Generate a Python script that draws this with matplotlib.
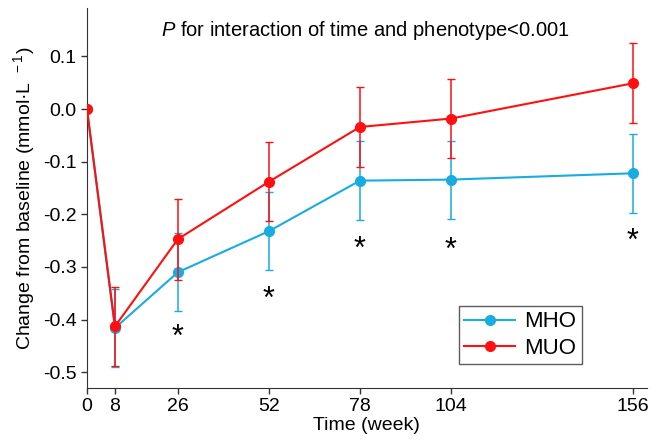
import matplotlib
matplotlib.use('Agg')
import matplotlib.pyplot as plt
from matplotlib.lines import Line2D

plt.rcParams['font.family'] = ['Liberation Sans', 'DejaVu Sans']
plt.rcParams['mathtext.fontset'] = 'custom'
plt.rcParams['mathtext.rm'] = 'Liberation Sans'
plt.rcParams['mathtext.it'] = 'Liberation Sans:italic'

# data
weeks = [0, 8, 26, 52, 78, 104, 156]
mho = [0.0, -0.416, -0.310, -0.232, -0.136, -0.134, -0.122]
mho_err = [0.0, 0.075, 0.074, 0.074, 0.075, 0.074, 0.075]
muo = [0.0, -0.413, -0.247, -0.138, -0.034, -0.018, 0.049]
muo_err = [0.0, 0.075, 0.077, 0.075, 0.076, 0.075, 0.076]

# significance marks
star_weeks = [26, 52, 78, 104, 156]
star_y = [-0.435, -0.363, -0.267, -0.269, -0.253]

blue = '#18ACE0'
red = '#FF1010'

fig = plt.figure(figsize=(6.54, 4.48), dpi=100)
ax = fig.add_axes([0.133, 0.134, 0.856, 0.848])

ax.errorbar(weeks, mho, yerr=mho_err, color=blue, marker='o', ms=7, lw=1.5,
            elinewidth=1.1, capsize=3, ecolor=blue, zorder=2)
ax.errorbar(weeks, muo, yerr=muo_err, color=red, marker='o', ms=7, lw=1.5,
            elinewidth=1.1, capsize=3, ecolor=red, zorder=3)

for x, y in zip(star_weeks, star_y):
    ax.text(x, y, '*', ha='center', va='center', fontsize=22)

ax.text(79.5, 0.150, '$\\mathit{P}$ for interaction of time and phenotype<0.001',
        ha='center', va='center', fontsize=14.5)

ax.set_xlim(0, 160)
ax.set_ylim(-0.53, 0.192)
ax.set_xticks(weeks)
ax.set_yticks([-0.5, -0.4, -0.3, -0.2, -0.1, 0.0, 0.1])
ax.set_yticklabels(['-0.5', '-0.4', '-0.3', '-0.2', '-0.1', '0.0', '0.1'])
ax.tick_params(labelsize=14, length=4, width=1, color='#333333')
ax.spines['top'].set_visible(False)
ax.spines['right'].set_visible(False)
for s in ['left', 'bottom']:
    ax.spines[s].set_color('#333333')

ax.set_xlabel('Time (week)', fontsize=14, labelpad=1)
ax.set_ylabel('Change from baseline (mmol·L$^{\\ \\ -1}$)', fontsize=14)

handles = [Line2D([], [], color=blue, marker='o', ms=7, lw=1.5),
           Line2D([], [], color=red, marker='o', ms=7, lw=1.5)]
leg = ax.legend(handles, ['MHO', 'MUO'], loc='lower right',
                bbox_to_anchor=(0.884, 0.062), fontsize=16,
                frameon=True, fancybox=False, handlelength=2.3,
                borderpad=0.25, labelspacing=0.25, handletextpad=0.4,
                borderaxespad=0)
leg.get_frame().set_edgecolor('#333333')
leg.get_frame().set_linewidth(1)

fig.savefig('out.png', dpi=100)
